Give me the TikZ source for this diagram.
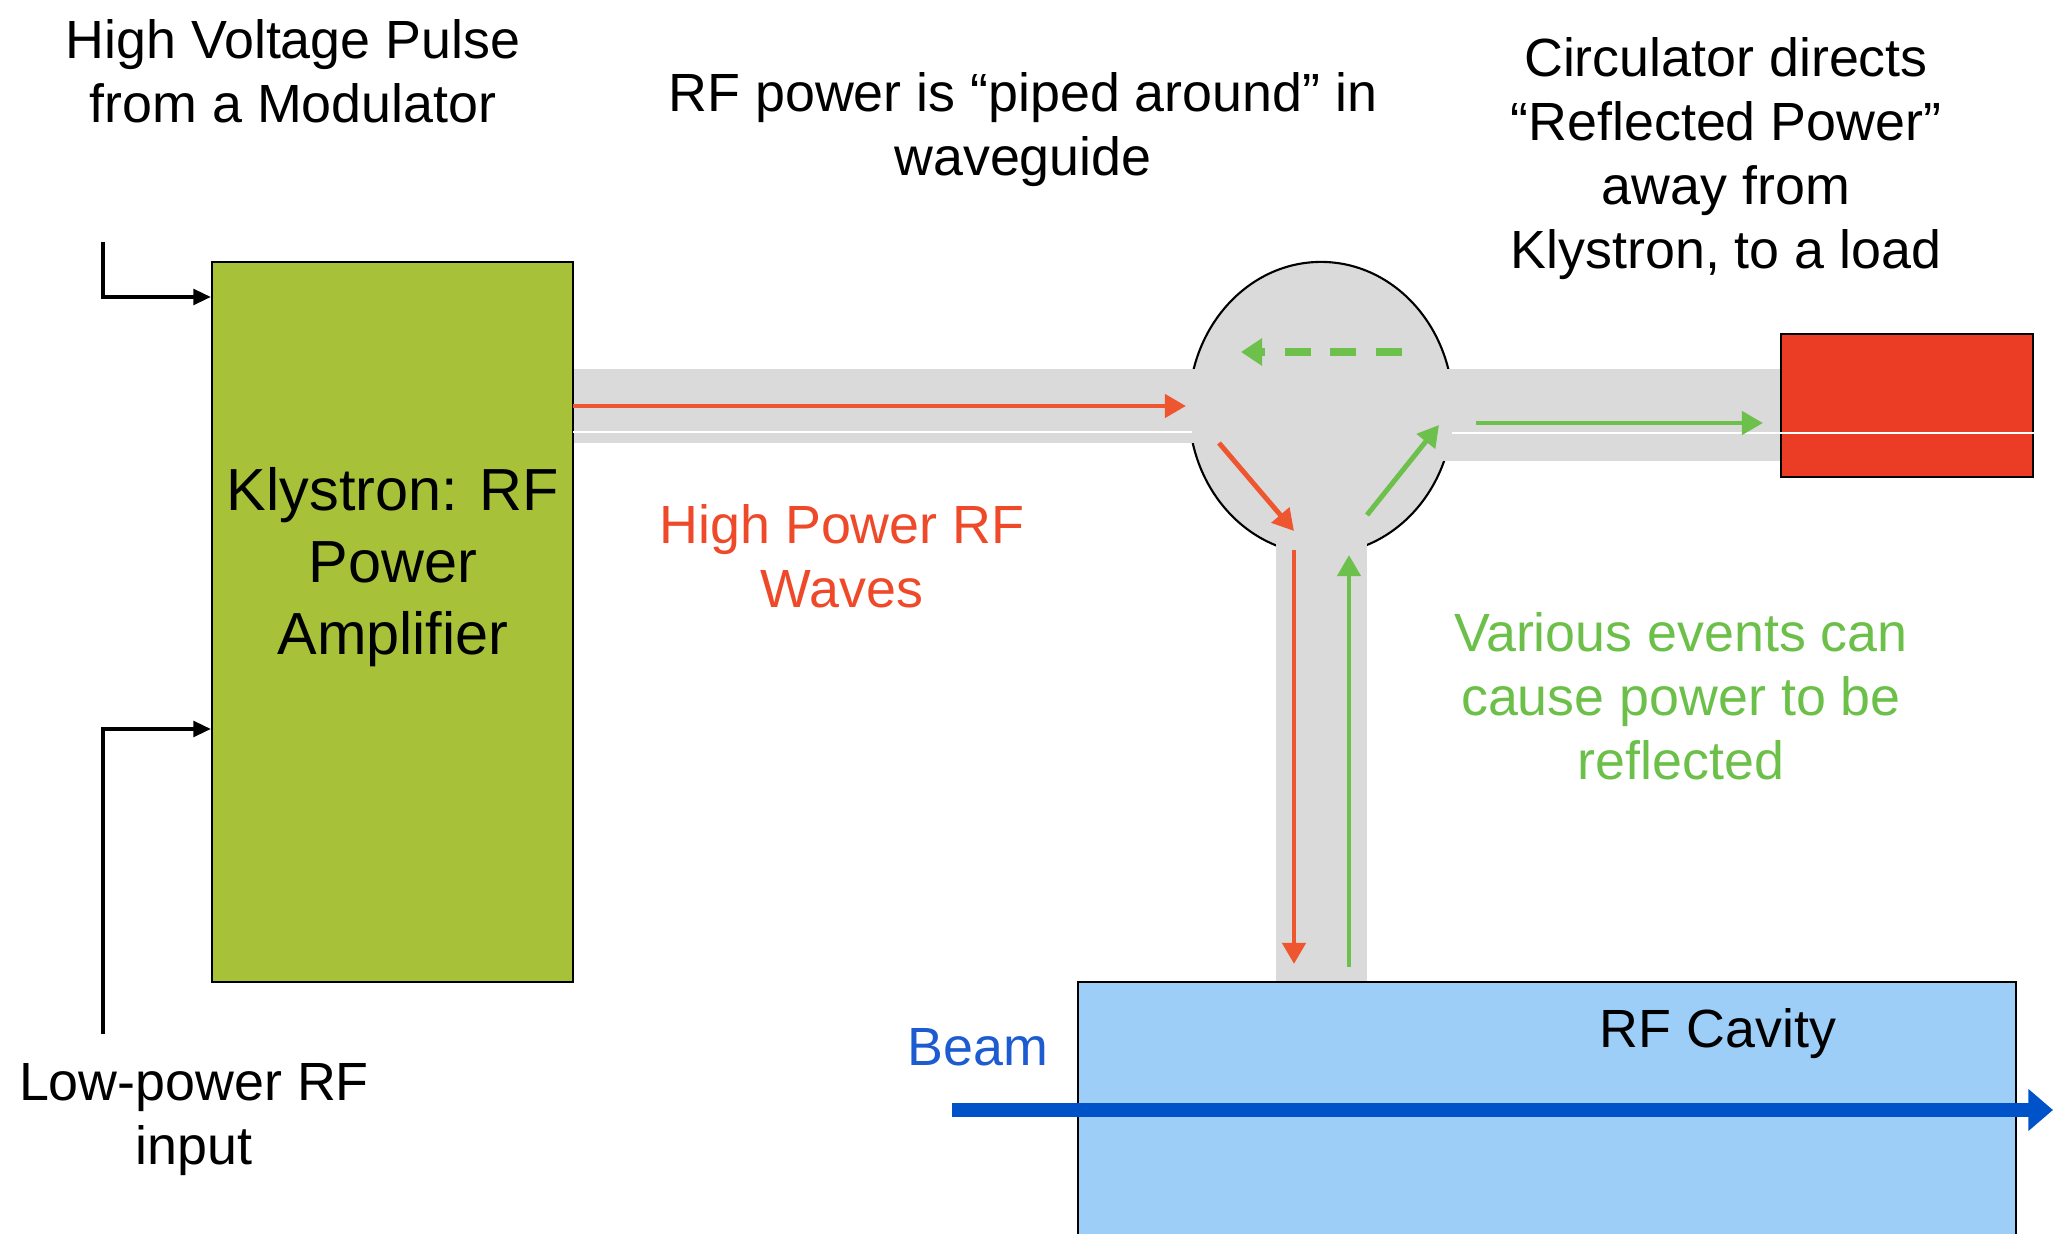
\documentclass[tikz,border=0pt]{standalone}
\usepackage{fontspec}
\setmainfont{Liberation Sans}
\usetikzlibrary{arrows.meta,shapes.geometric}
\definecolor{klygreen}{HTML}{A7C139}
\definecolor{loadred}{HTML}{EB3C25}
\definecolor{arrred}{HTML}{EE5630}
\definecolor{arrgreen}{HTML}{6DC04C}
\definecolor{wgrey}{HTML}{DADADA}
\definecolor{cavblue}{HTML}{9DCEF7}
\definecolor{beamblue}{HTML}{0052C9}
\definecolor{txtred}{HTML}{EE4A2A}
\definecolor{txtgreen}{HTML}{6CC04A}
\definecolor{txtblue}{HTML}{1D5CD0}
\tikzset{
  lbl/.style={font=\fontsize{15.3}{18.2}\selectfont, align=center, inner sep=0pt},
  inarrow/.style={line width=0.9pt, -{Triangle[length=5pt,width=4.5pt]}},
  wave/.style={line width=1.4pt, -{Triangle[length=6pt,width=6.5pt]}},
  band/.style={fill=wgrey, draw=none},
}
\begin{document}
\begin{tikzpicture}[x=0.01cm,y=-0.01cm]
\useasboundingbox (0,0) rectangle (2053,1234);
% circulator
\node[ellipse, draw=black, line width=0.6pt, fill=wgrey, minimum width=2.64cm, minimum height=2.92cm, inner sep=0pt] (circ) at (1321,408) {};
% waveguide bands
\fill[wgrey] (573,369) rectangle (1321,443);
\fill[wgrey] (1321,369) rectangle (1781,461);
\fill[wgrey] (1276,420) rectangle (1367,982);
% klystron
\node[draw=black, line width=0.6pt, fill=klygreen, minimum width=3.61cm, minimum height=7.20cm, inner sep=0pt] (kly) at (392.5,622) {};
\node[font=\fontsize{16.9}{20.5}\selectfont, align=center, inner sep=0pt] (klytxt) at (393,567) {Klystron: RF\\Power\\Amplifier};
% load
\node[draw=black, line width=0.8pt, fill=loadred, minimum width=2.52cm, minimum height=1.43cm, inner sep=0pt] (load) at (1907,405.5) {};
% white lines in waveguide
\draw[white, line width=0.6pt] (573,432) -- (1192,432);
\draw[white, line width=0.6pt] (1452,433) -- (load.east |- 0,433);
% cavity
\fill[cavblue] (1078,982) rectangle (2016,1234);
\draw[black, line width=0.8pt] (1078,1234) -- (1078,982) -- (2016,982) -- (2016,1234);
% beam
\coordinate (beamS) at (952,1110);
\coordinate (beamE) at (2053,1110);
\draw[beamblue, line width=4pt, -{Triangle[length=7pt,width=11.5pt]}] (beamS) -- (beamE);
% inputs
\coordinate (in1) at (103,242);
\coordinate (in2) at (103,1034);
\draw[inarrow] (in1) |- (kly.west |- 0,297);
\draw[inarrow] (in2) |- (kly.west |- 0,729);
% wave arrows
\coordinate (r1s) at (573,406);
\coordinate (r1e) at (1186,406);
\coordinate (r2s) at (1219,443);
\coordinate (r2e) at (1294,531);
\coordinate (r3s) at (1294,550);
\coordinate (r3e) at (1294,964);
\coordinate (g1s) at (1349,967);
\coordinate (g1e) at (1349,555);
\coordinate (g2s) at (1367,515);
\coordinate (g2e) at (1439,425);
\coordinate (g3s) at (1476,423);
\coordinate (g3e) at (1763,423);
\coordinate (g4s) at (1402,352);
\coordinate (g4e) at (1241,352);
\draw[wave, arrred] (r1s) -- (r1e);
\draw[wave, arrred] (r2s) -- (r2e);
\draw[wave, arrred] (r3s) -- (r3e);
\draw[wave, arrgreen] (g1s) -- (g1e);
\draw[wave, arrgreen] (g2s) -- (g2e);
\draw[wave, arrgreen] (g3s) -- (g3e);
\draw[arrgreen, line width=2.2pt, dash pattern=on 7.4pt off 5.6pt, -{Triangle[length=6pt,width=7.5pt]}] (g4s) -- (g4e);
% labels
\node[lbl] (hv) at (293,71) {High Voltage Pulse\\from a Modulator};
\node[lbl] (rfp) at (1023,130) {RF power is “piped around” in\\waveguide};
\node[lbl] (circtxt) at (1726,159) {Circulator directs\\“Reflected Power”\\away from\\Klystron, to a load};
\node[lbl] (low) at (194,1120) {Low-power RF\\input};
\node[lbl, text=txtred] (hp) at (842,556) {High Power RF\\Waves};
\node[lbl, text=txtgreen] (ve) at (1681,696) {Various events can\\cause power to be\\reflected};
\node[lbl, text=txtblue] (beam) at (978,1047) {Beam};
\node[lbl] (cav) at (1718,1034) {RF Cavity};
\end{tikzpicture}
\end{document}
